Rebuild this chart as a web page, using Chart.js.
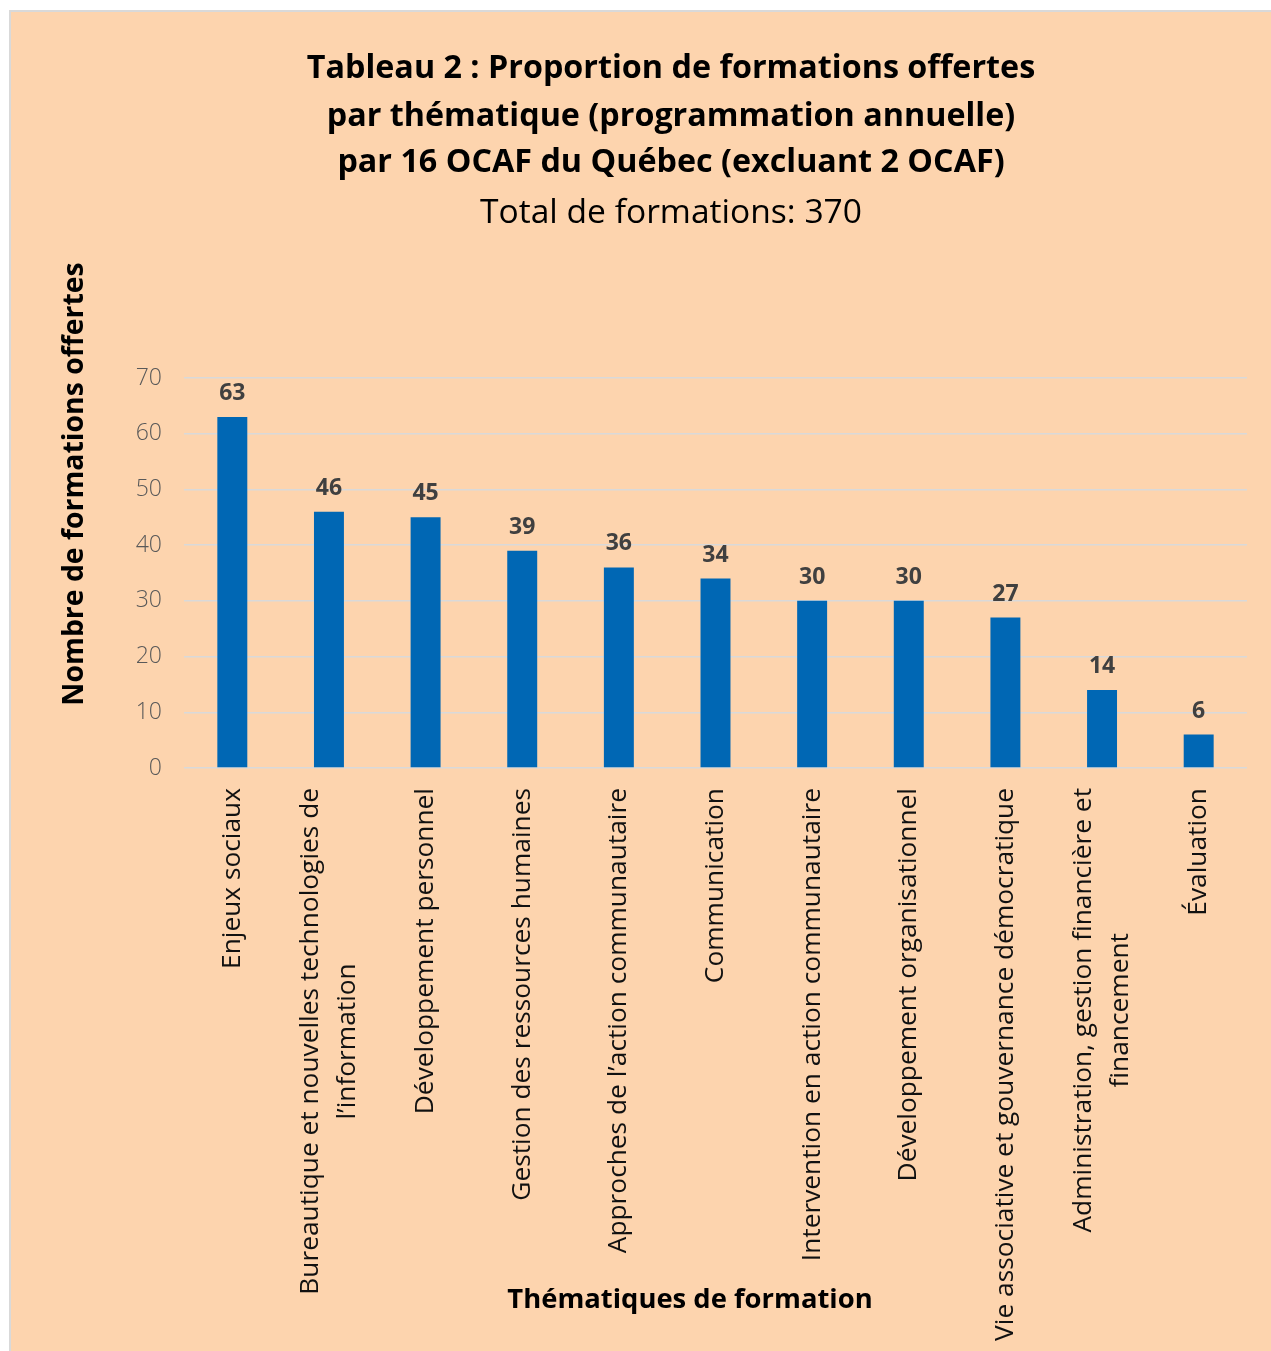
<!DOCTYPE html>
<html>
<head>
<meta charset="utf-8">
<title>Tableau 2</title>
<script src="https://cdn.jsdelivr.net/npm/chart.js@4.4.1/dist/chart.umd.min.js"></script>
<style>
  html, body { margin: 0; padding: 0; background: #fff; }
  #frame {
    position: absolute; left: 9px; top: 10px; width: 1262px; height: 1341px;
    background: #FDD4AE; border-left: 2px solid #d9d9d9; border-top: 2px solid #d9d9d9;
    box-sizing: border-box;
  }
  #wrap { position: absolute; left: 0; top: 0; width: 1271px; height: 1351px; }
</style>
</head>
<body>
<div id="frame"></div>
<div id="wrap"><canvas id="chart" width="1271" height="1351"></canvas></div>
<script>
// data
const categories = [
  ["Enjeux sociaux"],
  ["Bureautique et nouvelles technologies de", "l’information"],
  ["Développement personnel"],
  ["Gestion des ressources humaines"],
  ["Approches de l’action communautaire"],
  ["Communication"],
  ["Intervention en action communautaire"],
  ["Développement organisationnel"],
  ["Vie associative et gouvernance démocratique"],
  ["Administration, gestion financière et", "financement"],
  ["Évaluation"]
];
const counts = [63, 46, 45, 39, 36, 34, 30, 30, 27, 14, 6];
const yTicks = [0, 10, 20, 30, 40, 50, 60, 70];

const titleLines = [
  "Tableau 2 : Proportion de formations offertes",
  "par thématique (programmation annuelle)",
  "par 16 OCAF du Québec (excluant 2 OCAF)"
];
const subtitle = "Total de formations: 370";
const yTitle = "Nombre de formations offertes";
const xTitle = "Thématiques de formation";

const FONT = "'Open Sans', Lato, sans-serif";

// font size that makes `text` about `target` px wide
function fitSize(ctx, weight, text, target) {
  ctx.font = weight + " 100px " + FONT;
  return Math.round(target / ctx.measureText(text).width * 1000) / 10;
}

const textPlugin = {
  id: "texts",
  afterDraw(chart) {
    const ctx = chart.ctx;
    const xs = chart.scales.x;
    const meta = chart.getDatasetMeta(0);
    ctx.save();

    // titles
    ctx.fillStyle = "#000";
    ctx.textAlign = "center";
    ctx.textBaseline = "middle";
    ctx.font = "bold " + fitSize(ctx, "bold", titleLines[0], 728) + "px " + FONT;
    [69, 117, 163].forEach((y, i) => ctx.fillText(titleLines[i], 671, y));
    ctx.font = "normal " + fitSize(ctx, "normal", subtitle, 382) + "px " + FONT;
    ctx.fillText(subtitle, 671, 213);

    // value labels above bars
    ctx.fillStyle = "#404040";
    ctx.font = "bold 23px " + FONT;
    ctx.textBaseline = "alphabetic";
    meta.data.forEach((bar, i) => {
      ctx.fillText(String(counts[i]), bar.x, bar.y - 17);
    });

    // category labels, rotated, lines centred on each other
    ctx.fillStyle = "#111";
    ctx.font = "normal " + fitSize(ctx, "normal", categories[8][0], 552) + "px " + FONT;
    ctx.textBaseline = "middle";
    categories.forEach((lines, i) => {
      const x = xs.getPixelForValue(i);
      const w = Math.max(...lines.map(l => ctx.measureText(l).width));
      ctx.save();
      ctx.translate(x, 788);
      ctx.rotate(-Math.PI / 2);
      lines.forEach((l, j) => {
        ctx.fillText(l, -w / 2, (j - (lines.length - 1) / 2) * 37);
      });
      ctx.restore();
    });

    // axis titles
    ctx.fillStyle = "#000";
    ctx.font = "bold " + fitSize(ctx, "bold", yTitle, 444) + "px " + FONT;
    ctx.save();
    ctx.translate(75, 484);
    ctx.rotate(-Math.PI / 2);
    ctx.fillText(yTitle, 0, 0);
    ctx.restore();
    ctx.font = "bold " + fitSize(ctx, "bold", xTitle, 365) + "px " + FONT;
    ctx.fillText(xTitle, 690, 1300);

    ctx.restore();
  }
};

new Chart(document.getElementById("chart"), {
  type: "bar",
  data: {
    labels: categories,
    datasets: [{
      data: counts,
      backgroundColor: "#0067B4",
      barPercentage: 0.31,
      categoryPercentage: 1
    }]
  },
  options: {
    responsive: false,
    devicePixelRatio: 1,
    animation: false,
    layout: { padding: { top: 378, right: 24, bottom: 583, left: 0 } },
    plugins: { legend: { display: false }, tooltip: { enabled: false } },
    scales: {
      x: {
        grid: { display: false, drawTicks: false },
        border: { display: false },
        ticks: { display: false },
        afterFit: s => { s.height = 0; }
      },
      y: {
        min: 0,
        max: 70,
        afterBuildTicks: s => { s.ticks = yTicks.map(v => ({ value: v })); },
        grid: { color: "#d9d9d9", lineWidth: 1.5, drawTicks: false },
        border: { display: false },
        ticks: { color: "#595959", font: { family: FONT, size: 23, weight: "300" }, padding: 22 },
        afterFit: s => { s.width = 184; }
      }
    }
  },
  plugins: [textPlugin]
});
</script>
</body>
</html>
